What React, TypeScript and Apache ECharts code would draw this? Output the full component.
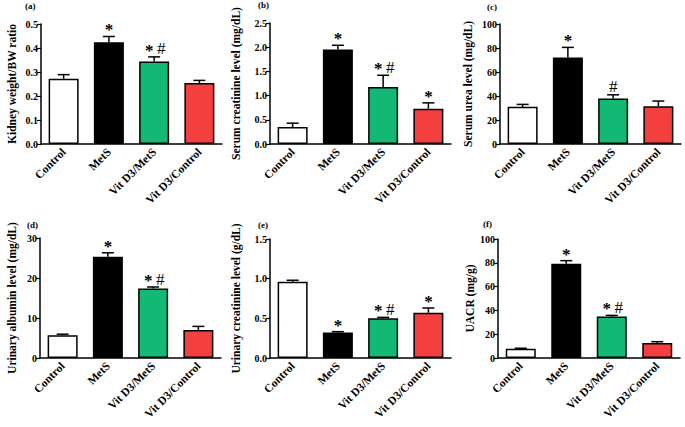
import React, { useEffect, useRef } from "react";
import * as echarts from "echarts";

const categories = ["Control", "MetS", "Vit D3/MetS", "Vit D3/Control"];
const barColors = ["#ffffff", "#000000", "#12b874", "#f43f3f"];

const panelLabels = ["(a)", "(b)", "(c)", "(d)", "(e)", "(f)"];
const yNames = [
  "Kidney weight/BW ratio",
  "Serum creatinine level (mg/dL)",
  "Serum urea level (mg/dL)",
  "Urinary albumin level (mg/dL)",
  "Urinary creatinine level (g/dL)",
  "UACR (mg/g)",
];

const kidneyRatio = [0.272, 0.424, 0.344, 0.254];
const kidneyRatioErr = [0.017, 0.024, 0.019, 0.011];
const serumCreat = [0.35, 1.95, 1.18, 0.73];
const serumCreatErr = [0.08, 0.09, 0.24, 0.12];
const serumUrea = [31, 72, 38, 31.5];
const serumUreaErr = [2, 8.5, 3, 4.3];
const urinaryAlb = [5.7, 25.3, 17.4, 7.0];
const urinaryAlbErr = [0.25, 1.0, 0.35, 0.9];
const urinaryCreat = [0.96, 0.32, 0.5, 0.57];
const urinaryCreatErr = [0.02, 0.012, 0.012, 0.06];
const uacr = [7.8, 79.3, 34.9, 12.6];
const uacrErr = [0.4, 2.5, 0.9, 1.1];

const annA = ["", "*", "* #", ""];
const annB = ["", "*", "* #", "*"];
const annC = ["", "*", "#", ""];
const annD = ["", "*", "* #", ""];
const annE = ["", "*", "* #", "*"];
const annF = ["", "*", "* #", ""];

const yMax = [0.5, 2.5, 100, 30, 1.5, 100];
const yInterval = [0.1, 0.5, 20, 10, 0.5, 20];
const yDecimals = [1, 1, 0, 0, 1, 0];

const means = [kidneyRatio, serumCreat, serumUrea, urinaryAlb, urinaryCreat, uacr];
const errs = [kidneyRatioErr, serumCreatErr, serumUreaErr, urinaryAlbErr, urinaryCreatErr, uacrErr];
const anns = [annA, annB, annC, annD, annE, annF];

const grids = [
  { left: 41, top: 24, width: 181, height: 120 },
  { left: 270, top: 23, width: 181, height: 121 },
  { left: 500, top: 24, width: 181, height: 120 },
  { left: 40, top: 238, width: 181, height: 120 },
  { left: 270, top: 239, width: 181, height: 119 },
  { left: 498, top: 239, width: 182, height: 119 },
];
const nameGaps = [23, 28.5, 26.5, 22.5, 28.5, 22.5];
const labelPos = [
  [25, 1],
  [258, 0],
  [487, 2],
  [27, 220],
  [258, 220],
  [483, 219],
];

const FONT = "'Liberation Serif', 'Times New Roman', serif";

function symbolEls(t: string, x: number, cap: number): any[] {
  const star = (sx: number) => ({
    type: "text",
    x: sx,
    y: cap - 6.5,
    style: {
      text: "*",
      fill: "#000",
      font: `bold 17px ${FONT}`,
      textAlign: "center",
      textVerticalAlign: "middle",
    },
  });
  const hash = (hx: number) => ({
    type: "text",
    x: hx,
    y: cap + 0.5,
    style: {
      text: "#",
      fill: "#000",
      font: `17px ${FONT}`,
      textAlign: "center",
      textVerticalAlign: "bottom",
    },
  });
  if (t === "*") return [star(x)];
  if (t === "#") return [hash(x)];
  if (t === "* #") return [star(x - 5), hash(x + 7)];
  return [];
}

export default function App() {
  const ref = useRef<HTMLDivElement>(null);
  useEffect(() => {
    if (!ref.current) return;
    const chart = echarts.init(ref.current, undefined, { renderer: "svg" });
    const xAxis: any[] = [];
    const yAxis: any[] = [];
    const series: any[] = [];
    grids.forEach((g, i) => {
      xAxis.push({
        type: "category",
        gridIndex: i,
        data: categories,
        axisLine: { lineStyle: { color: "#000", width: 1.5 } },
        axisTick: { alignWithLabel: true, length: 4, lineStyle: { color: "#000", width: 1.2 } },
        axisLabel: {
          interval: 0,
          rotate: 45,
          margin: 6,
          color: "#000",
          fontFamily: FONT,
          fontWeight: "bold",
          fontSize: 11.5,
        },
      });
      yAxis.push({
        type: "value",
        gridIndex: i,
        min: 0,
        max: yMax[i],
        interval: yInterval[i],
        name: yNames[i],
        nameLocation: "middle",
        nameGap: nameGaps[i],
        nameTextStyle: { color: "#000", fontFamily: FONT, fontWeight: "bold", fontSize: 11.5 },
        splitLine: { show: false },
        axisLine: { show: true, lineStyle: { color: "#000", width: 1.5 } },
        axisTick: { show: true, length: 4, lineStyle: { color: "#000", width: 1.2 } },
        axisLabel: {
          margin: 3,
          color: "#000",
          fontFamily: FONT,
          fontWeight: "bold",
          fontSize: 10,
          formatter: (v: number) => v.toFixed(yDecimals[i]),
        },
      });
      series.push({
        type: "bar",
        xAxisIndex: i,
        yAxisIndex: i,
        barWidth: 30,
        data: means[i].map((v, k) => ({
          value: v,
          itemStyle: { color: barColors[k], borderColor: "#000", borderWidth: 1.5 },
        })),
      });
      const annArr = anns[i];
      series.push({
        type: "custom",
        xAxisIndex: i,
        yAxisIndex: i,
        z: 5,
        data: means[i].map((v, k) => [k, v, errs[i][k]]),
        renderItem: (params: any, api: any) => {
          const idx = api.value(0);
          const m = api.value(1);
          const e = api.value(2);
          const p0 = api.coord([idx, m]);
          const p1 = api.coord([idx, m + e]);
          const children: any[] = [
            {
              type: "line",
              shape: { x1: p0[0], y1: p0[1], x2: p1[0], y2: p1[1] },
              style: { stroke: "#000", lineWidth: 1.5 },
            },
            {
              type: "line",
              shape: { x1: p1[0] - 6, y1: p1[1], x2: p1[0] + 6, y2: p1[1] },
              style: { stroke: "#000", lineWidth: 1.5 },
            },
          ];
          children.push(...symbolEls(annArr[params.dataIndex], p1[0], p1[1]));
          return { type: "group", children };
        },
      });
    });
    chart.setOption({
      animation: false,
      backgroundColor: "#fff",
      grid: grids.map((g) => ({ ...g, containLabel: false })),
      xAxis,
      yAxis,
      series,
      graphic: panelLabels.map((t, i) => ({
        type: "text",
        left: labelPos[i][0],
        top: labelPos[i][1],
        style: { text: t, fill: "#000", font: `bold 9px ${FONT}` },
      })),
    });
    return () => chart.dispose();
  }, []);
  return (
    <div
      ref={ref}
      style={{ position: "fixed", left: 0, top: 0, width: 685, height: 427, background: "#fff" }}
    />
  );
}
